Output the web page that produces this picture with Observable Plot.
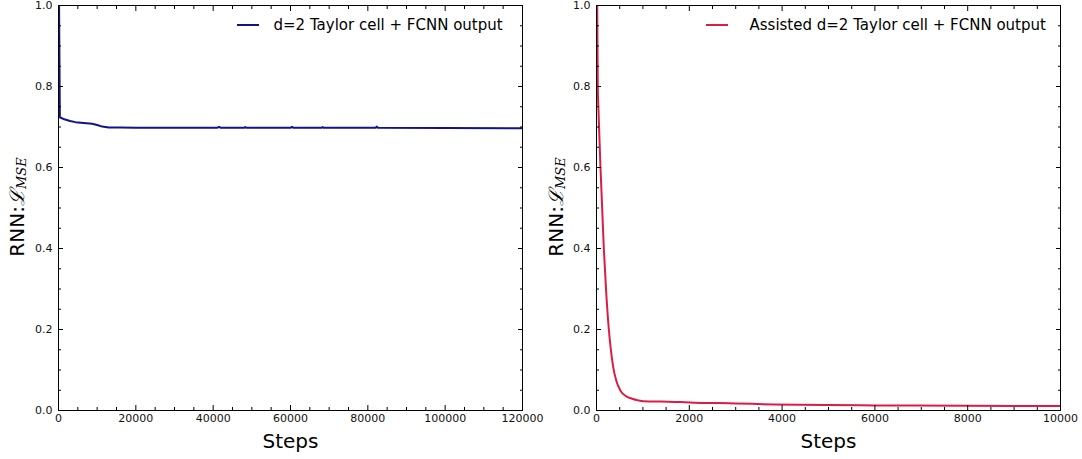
<!DOCTYPE html>
<html><head><meta charset="utf-8">
<script src="https://cdn.jsdelivr.net/npm/d3@7"></script>
<script src="https://cdn.jsdelivr.net/npm/@observablehq/plot@0.6"></script>
<style>
body{margin:0;background:#fff;font-family:"DejaVu Sans",sans-serif}
#wrap{position:relative;width:1082px;height:459px}
#wrap svg{position:absolute;top:0;display:block;overflow:visible}
</style></head><body><div id="wrap"></div>
<script>
// ---- data ----
const leftSteps = [0, 350, 1500, 3000, 4400, 6500, 8700, 10000, 11300, 13000, 16000, 20000, 30000, 41000, 41500, 42000, 48000, 48300, 48600, 60000, 60400, 60800, 68000, 68300, 68600, 82000, 82300, 82600, 100000, 120000];
const leftLoss  = [1.2, 0.724, 0.719, 0.715, 0.712, 0.710, 0.708, 0.705, 0.701, 0.699, 0.6985, 0.698, 0.698, 0.698, 0.7005, 0.698, 0.698, 0.700, 0.698, 0.698, 0.7005, 0.698, 0.698, 0.700, 0.698, 0.698, 0.701, 0.698, 0.6975, 0.697];
const rightSteps = [0, 15, 28, 43, 86, 158, 210, 266, 310, 360, 430, 517, 640, 768, 900, 1010, 1400, 1810, 2000, 3000, 3810, 5000, 6000, 8000, 10000];
const rightLoss  = [1.15, 1.0, 0.80, 0.74, 0.60, 0.40, 0.29, 0.20, 0.15, 0.107, 0.072, 0.049, 0.035, 0.029, 0.025, 0.023, 0.022, 0.021, 0.020, 0.0175, 0.015, 0.0135, 0.0125, 0.0118, 0.011];
const leftLabel = "d=2 Taylor cell + FCNN output";
const rightLabel = "Assisted d=2 Taylor cell + FCNN output";
const yTicks = [0, 0.2, 0.4, 0.6, 0.8, 1.0];
const leftXTicks = [0, 20000, 40000, 60000, 80000, 100000, 120000];
const rightXTicks = [0, 2000, 4000, 6000, 8000, 10000];
const xLabel = "Steps";

function panel({steps, loss, color, label, xTicks, xMinorStep, width, marginLeft, marginRight, swatchX, textX, ylabX, curve}) {
  const data = steps.map((s, i) => ({step: s, loss: loss[i]}));
  const xmax = xTicks[xTicks.length - 1];
  const xMinor = d3.range(0, xmax + 1, xMinorStep).filter(v => !xTicks.includes(v));
  const yMinor = d3.range(0, 21).map(i => i * 0.05).filter((v, i) => i % 4 !== 0);
  const fx = d3.format("d"), fy = d3.format(".1f");
  const plot = Plot.plot({
    width, height: 459, marginTop: 5, marginBottom: 49, marginLeft, marginRight,
    style: {fontFamily: "DejaVu Sans", fontSize: "11px", color: "black", background: "none", overflow: "visible"},
    x: {domain: [0, xmax]},
    y: {domain: [0, 1]},
    marks: [
      Plot.line(data, {x: "step", y: "loss", stroke: color, strokeWidth: 2, clip: true, curve}),
      // major and minor ticks (inward, all sides)
      Plot.axisX(xTicks, {anchor: "bottom", tickSize: -5, text: null, label: null}),
      Plot.axisX(xTicks, {anchor: "top", tickSize: -5, text: null, label: null}),
      Plot.axisX(xMinor, {anchor: "bottom", tickSize: -3, text: null, label: null}),
      Plot.axisX(xMinor, {anchor: "top", tickSize: -3, text: null, label: null}),
      Plot.axisY(yTicks, {anchor: "left", tickSize: -5, text: null, label: null}),
      Plot.axisY(yTicks, {anchor: "right", tickSize: -5, text: null, label: null}),
      Plot.axisY(yMinor, {anchor: "left", tickSize: -3, text: null, label: null}),
      Plot.axisY(yMinor, {anchor: "right", tickSize: -3, text: null, label: null}),
      // tick labels
      Plot.axisX(xTicks, {anchor: "bottom", tickSize: 0, tickPadding: 4, tickFormat: fx, label: null, fill: "#111"}),
      Plot.axisY(yTicks, {anchor: "left", tickSize: 0, tickPadding: 6, tickFormat: fy, label: null, fill: "#111"}),
      Plot.text([xLabel], {frameAnchor: "bottom", lineAnchor: "middle", dy: 31, fontSize: 20, fill: "black"}),
      Plot.text([label], {frameAnchor: "top-left", lineAnchor: "middle", dx: textX - marginLeft, dy: 20, textAnchor: "start", fontSize: 15, fill: "black"}),
      Plot.frame({stroke: "black", strokeWidth: 1})
    ]
  });
  const svg = d3.select(plot);
  svg.append("line").attr("x1", swatchX).attr("x2", swatchX + 22).attr("y1", 25).attr("y2", 25)
     .attr("stroke", color).attr("stroke-width", 2);
  const t = svg.append("text")
    .attr("transform", `translate(${ylabX},207) rotate(-90)`)
    .attr("text-anchor", "middle").attr("dominant-baseline", "middle")
    .attr("font-size", 20).attr("font-family", "DejaVu Sans").attr("fill", "black");
  t.append("tspan").text("RNN:");
  t.append("tspan").attr("font-family", "DejaVu Serif").attr("font-style", "italic").text("ℒ");
  t.append("tspan").attr("font-family", "DejaVu Serif").attr("font-style", "italic").attr("font-size", 13).attr("dy", 4).text("MSE");
  return plot;
}

const wrap = document.getElementById("wrap");
const p1 = panel({steps: leftSteps, loss: leftLoss, color: "#12128a", label: leftLabel, xTicks: leftXTicks, xMinorStep: 5000,
  width: 541, marginLeft: 58, marginRight: 19, swatchX: 237, textX: 273, ylabX: 18, curve: "linear"});
const p2 = panel({steps: rightSteps, loss: rightLoss, color: "#dc1c44", label: rightLabel, xTicks: rightXTicks, xMinorStep: 500,
  width: 541, marginLeft: 55, marginRight: 22, swatchX: 165, textX: 208, ylabX: 16, curve: "monotone-x"});
p1.style.left = "0px";
p2.style.left = "541px";
wrap.append(p2);
wrap.append(p1);
</script></body></html>
